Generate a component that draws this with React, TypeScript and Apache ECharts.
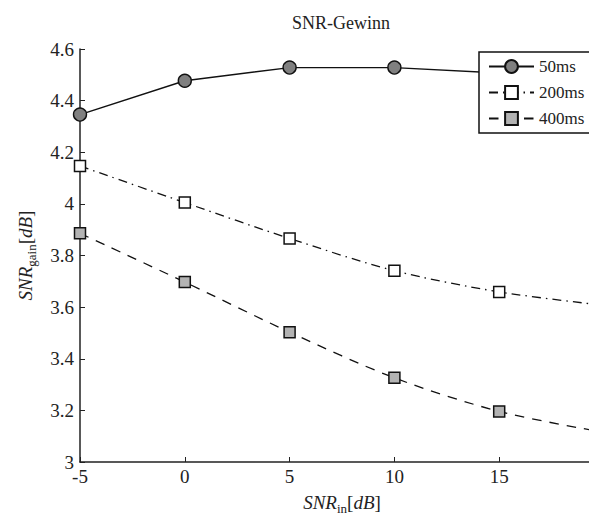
import React, { useEffect, useRef } from "react";
import * as echarts from "echarts";

// SNR_in [dB]
const snrIn = [-5, 0, 5, 10, 15, 20];
// SNR gain [dB] per window length
const gain50ms = [4.346, 4.477, 4.528, 4.528, 4.507];
const gain200ms = [4.147, 4.005, 3.866, 3.741, 3.659, 3.607];
const gain400ms = [3.886, 3.697, 3.503, 3.326, 3.196, 3.115];
const seriesNames = ["50ms", "200ms", "400ms"];
const titleText = "SNR-Gewinn";

const FONT = "Liberation Serif";

const pairs = (vals: number[]) => vals.map((v, i) => [snrIn[i], v]);

const nameRich = {
  i: { fontFamily: FONT, fontStyle: "italic", fontSize: 19, color: "#222", lineHeight: 26, verticalAlign: "middle" },
  n: { fontFamily: FONT, fontSize: 19, color: "#222", lineHeight: 26, verticalAlign: "middle" },
  s: { fontFamily: FONT, fontSize: 13, color: "#222", lineHeight: 13, verticalAlign: "bottom" },
};

export default function App() {
  const ref = useRef<HTMLDivElement>(null);
  useEffect(() => {
    if (!ref.current) return;
    const chart = echarts.init(ref.current, undefined, { renderer: "svg" });
    const axisTick = { show: true, inside: true, length: 5, lineStyle: { color: "#222", width: 1 } };
    const axisLabel = { color: "#222", fontFamily: FONT, fontSize: 19 };
    chart.setOption({
      animation: false,
      backgroundColor: "#fff",
      textStyle: { fontFamily: FONT },
      graphic: [
        {
          type: "text",
          x: 341,
          y: 23,
          style: {
            text: titleText,
            align: "center",
            verticalAlign: "middle",
            fontFamily: FONT,
            fontSize: 18,
            fill: "#222",
          },
        },
      ],
      grid: { left: 80, top: 49, bottom: 58, right: -15, containLabel: false, outerBoundsMode: "none" },
      legend: {
        orient: "vertical",
        left: 479,
        top: 52,
        padding: [6, 20, 6, 9],
        itemWidth: 45,
        itemHeight: 16,
        itemGap: 9,
        backgroundColor: "#fff",
        borderColor: "#111",
        borderWidth: 1.5,
        borderRadius: 0,
        textStyle: { fontFamily: FONT, fontSize: 17, color: "#222" },
        data: seriesNames,
      },
      xAxis: {
        type: "value",
        min: -5,
        max: 20,
        interval: 5,
        axisLine: { show: true, onZero: false, lineStyle: { color: "#222", width: 1.5 } },
        axisTick,
        axisLabel: { ...axisLabel, margin: 5, showMaxLabel: false },
        splitLine: { show: false },
        name: "{i|SNR}{s|in}{n|[}{i|dB}{n|]}",
        nameLocation: "middle",
        nameGap: 27,
        nameTextStyle: { rich: nameRich },
      },
      yAxis: {
        type: "value",
        min: 3,
        max: 4.6,
        interval: 0.2,
        axisLine: { show: true, onZero: false, lineStyle: { color: "#222", width: 1.5 } },
        axisTick,
        axisLabel: { ...axisLabel, margin: 6 },
        splitLine: { show: false },
        name: "{i|SNR}{s|gain}{n|[}{i|dB}{n|]}",
        nameLocation: "middle",
        nameRotate: 90,
        nameGap: 42,
        nameTextStyle: { rich: nameRich },
      },
      series: [
        {
          name: seriesNames[0],
          type: "line",
          data: pairs(gain50ms),
          symbol: "circle",
          symbolSize: 13,
          itemStyle: { color: "#808080", borderColor: "#111", borderWidth: 1.4 },
          lineStyle: { color: "#111", width: 1.4, type: "solid" },
          z: 3,
        },
        {
          name: seriesNames[1],
          type: "line",
          data: pairs(gain200ms),
          smooth: 0.3,
          symbol: "rect",
          symbolSize: 11,
          itemStyle: { color: "#fff", borderColor: "#111", borderWidth: 1.5 },
          lineStyle: { color: "#111", width: 1.3, type: [9, 5, 1.5, 5] },
        },
        {
          name: seriesNames[2],
          type: "line",
          data: pairs(gain400ms),
          smooth: 0.3,
          symbol: "rect",
          symbolSize: 11,
          itemStyle: { color: "#b3b3b3", borderColor: "#111", borderWidth: 1.5 },
          lineStyle: { color: "#111", width: 1.3, type: [9.5, 8] },
        },
      ],
    });
    return () => chart.dispose();
  }, []);
  return (
    <div
      ref={ref}
      style={{ position: "absolute", left: 0, top: 0, width: 589, height: 520 }}
    />
  );
}
